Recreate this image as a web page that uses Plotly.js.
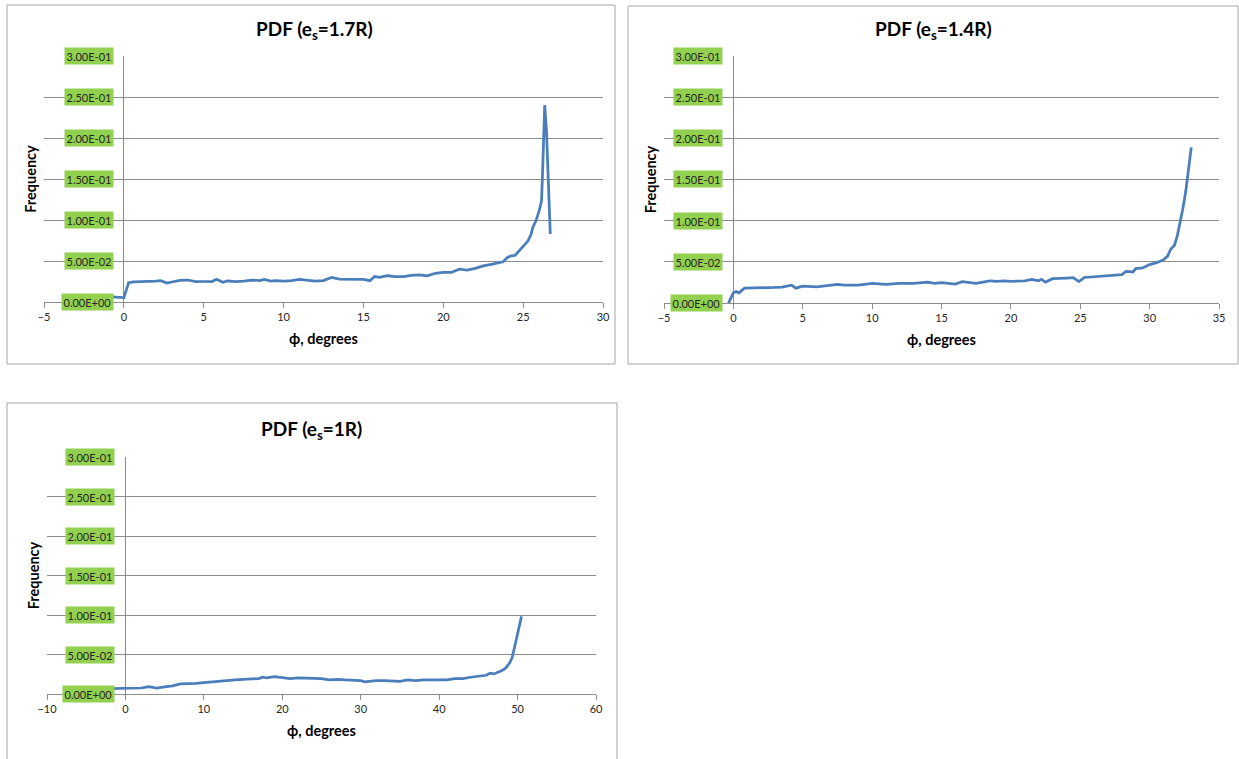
<!DOCTYPE html>
<html>
<head>
<meta charset="utf-8">
<script src="https://cdn.plot.ly/plotly-3.0.1.min.js"></script>
<style>html,body{margin:0;padding:0;background:#fff;}</style>
</head>
<body>
<div id="chart" style="width:1239px;height:759px;"></div>
<script>
// ---- data ----
const chartTitles = ['<b>PDF (e<sub>s</sub>=1.7R)</b>', '<b>PDF (e<sub>s</sub>=1.4R)</b>', '<b>PDF (e<sub>s</sub>=1R)</b>'];
const xTitle = '<b>ϕ, degrees</b>';
const yTitle = '<b>Frequency</b>';

const yTickVals = [0, 0.05, 0.10, 0.15, 0.20, 0.25, 0.30];
const yTickText = ['0.00E+00', '5.00E-02', '1.00E-01', '1.50E-01', '2.00E-01', '2.50E-01', '3.00E-01'];
const xTicks1 = [-5, 0, 5, 10, 15, 20, 25, 30];
const xTicks2 = [-5, 0, 5, 10, 15, 20, 25, 30, 35];
const xTicks3 = [-10, 0, 10, 20, 30, 40, 50, 60];

// PDF e_s = 1.7R
const x1 = [-1.0, -0.7, -0.3, 0, 0.3, 0.6, 1, 1.5, 2, 2.3, 2.7, 3, 3.5, 4, 4.5, 5, 5.5, 5.8, 6.2, 6.5, 7, 7.5, 8, 8.5, 8.8, 9.2, 9.5, 10, 10.5, 11, 11.5, 12, 12.5, 13, 13.5, 14, 14.5, 15, 15.4, 15.7, 16, 16.5, 17, 17.5, 18, 18.5, 19, 19.5, 20, 20.5, 21, 21.5, 22, 22.5, 23, 23.5, 23.75, 24, 24.2, 24.5, 24.8, 25.1, 25.3, 25.5, 25.6, 25.8, 26.0, 26.15, 26.2, 26.3, 26.35, 26.46, 26.56, 26.7];
const y1 = [0.0066, 0.0065, 0.0057, 0.0053, 0.0236, 0.0244, 0.025, 0.0256, 0.0256, 0.026, 0.023, 0.0244, 0.0264, 0.0268, 0.0248, 0.025, 0.025, 0.0276, 0.024, 0.0256, 0.025, 0.0256, 0.0268, 0.026, 0.0276, 0.0256, 0.026, 0.0256, 0.026, 0.0276, 0.0268, 0.0256, 0.0262, 0.030, 0.028, 0.0276, 0.028, 0.0276, 0.026, 0.031, 0.030, 0.032, 0.031, 0.031, 0.0325, 0.033, 0.032, 0.035, 0.036, 0.036, 0.040, 0.039, 0.041, 0.044, 0.046, 0.0475, 0.049, 0.054, 0.056, 0.057, 0.063, 0.070, 0.0745, 0.0825, 0.0905, 0.099, 0.111, 0.123, 0.148, 0.229, 0.240, 0.209, 0.148, 0.083];

// PDF e_s = 1.4R
const x2 = [-0.35, 0, 0.2, 0.4, 0.8, 1.5, 2, 3, 3.5, 4, 4.2, 4.5, 5, 6, 7, 7.5, 8, 9, 10, 11, 12, 13, 14, 14.5, 15, 16, 16.5, 17, 17.5, 18, 18.5, 19, 19.5, 20, 21, 21.5, 22, 22.2, 22.5, 23, 23.5, 24, 24.5, 24.9, 25.3, 26, 26.5, 27, 27.5, 28, 28.3, 28.8, 29, 29.5, 30, 30.5, 31, 31.3, 31.5, 31.8, 32, 32.2, 32.4, 32.6, 32.8, 33];
const y2 = [0.0, 0.0123, 0.014, 0.0123, 0.018, 0.018, 0.0189, 0.0189, 0.0193, 0.0205, 0.0217, 0.018, 0.0205, 0.0197, 0.0213, 0.0225, 0.0217, 0.0217, 0.0238, 0.0225, 0.0238, 0.0238, 0.0254, 0.0238, 0.0246, 0.023, 0.026, 0.0246, 0.0238, 0.0254, 0.027, 0.0262, 0.027, 0.0262, 0.027, 0.0287, 0.027, 0.0287, 0.0254, 0.0295, 0.0295, 0.0303, 0.0307, 0.026, 0.031, 0.032, 0.0328, 0.0336, 0.0344, 0.0344, 0.0385, 0.0377, 0.0418, 0.0426, 0.0467, 0.049, 0.0525, 0.057, 0.0648, 0.0705, 0.082, 0.098, 0.115, 0.135, 0.16, 0.189];

// PDF e_s = 1R
const x3 = [-2, -1.3, 0, 1, 2, 3, 3.5, 4, 5, 6, 7, 8, 9, 10, 11, 12, 13, 14, 15, 16, 17, 17.5, 18, 19, 20, 21, 22, 23, 24, 25, 26, 27, 28, 29, 30, 30.5, 31, 32, 33, 34, 35, 36, 37, 38, 39, 40, 41, 42, 43, 44, 45, 46, 46.5, 47, 48, 48.5, 49, 49.3, 49.6, 50, 50.5];
const y3 = [0.0068, 0.0068, 0.0068, 0.0068, 0.0076, 0.0093, 0.0080, 0.0076, 0.0089, 0.0102, 0.0127, 0.0127, 0.0136, 0.0144, 0.0153, 0.0161, 0.0178, 0.0178, 0.0186, 0.0186, 0.0195, 0.0212, 0.0203, 0.022, 0.0212, 0.0195, 0.0203, 0.0203, 0.0195, 0.0195, 0.0178, 0.0186, 0.0178, 0.0178, 0.017, 0.0153, 0.0161, 0.017, 0.017, 0.017, 0.0161, 0.0178, 0.017, 0.0178, 0.0178, 0.0186, 0.0178, 0.0195, 0.0195, 0.0212, 0.0229, 0.0237, 0.0263, 0.0254, 0.0297, 0.033, 0.0394, 0.0458, 0.0585, 0.0754, 0.0983];

// ---- layout geometry (pixels) ----
const W = 1239, H = 759;
const px = v => v / W;
const py = v => 1 - v / H;

const FONT = 'Lato, "Open Sans", sans-serif';
const lineColor = '#4A7EBB';
const gridColor = '#8C8C8C';
const borderColor = '#A6A6A6';
const green = '#92D050';

const traces = [
  {x: x1, y: y1, xaxis: 'x', yaxis: 'y', type: 'scatter', mode: 'lines', line: {color: lineColor, width: 2.75}, hoverinfo: 'skip'},
  {x: x2, y: y2, xaxis: 'x2', yaxis: 'y2', type: 'scatter', mode: 'lines', line: {color: lineColor, width: 2.75}, hoverinfo: 'skip'},
  {x: x3, y: y3, xaxis: 'x3', yaxis: 'y3', type: 'scatter', mode: 'lines', line: {color: lineColor, width: 2.75}, hoverinfo: 'skip'}
];

function xAxis(domain, range, ticks, anchor) {
  return {
    domain: domain, range: range, tickvals: ticks, anchor: anchor,
    ticks: 'outside', ticklen: 5, tickcolor: gridColor, tickwidth: 1,
    showline: true, linecolor: gridColor, linewidth: 1,
    showgrid: false, zeroline: true, zerolinecolor: gridColor, zerolinewidth: 1,
    tickfont: {family: FONT, size: 11, color: '#262626'},
    title: {text: xTitle, font: {family: FONT, size: 14.5, color: '#000'}, standoff: 11},
    fixedrange: true
  };
}
function yAxis(domain, anchor) {
  return {
    domain: domain, range: [0, 0.3], tickvals: yTickVals, anchor: anchor,
    showticklabels: false, ticks: '', showgrid: true, gridcolor: gridColor, gridwidth: 1,
    zeroline: false, showline: false, fixedrange: true,
    title: {text: yTitle, font: {family: FONT, size: 14.5, color: '#000'}, standoff: 2}
  };
}

const panels = [
  {xref: 'x', yref: 'y', box: [7, 5, 615, 364], title: chartTitles[0], titleX: 314, titleY: 30},
  {xref: 'x2', yref: 'y2', box: [628, 6, 1238, 364], title: chartTitles[1], titleX: 933, titleY: 30},
  {xref: 'x3', yref: 'y3', box: [7, 403, 617, 770], title: chartTitles[2], titleX: 311, titleY: 430}
];

const annotations = [];
const shapes = [];
panels.forEach(p => {
  shapes.push({type: 'rect', xref: 'paper', yref: 'paper', x0: px(p.box[0]), x1: px(p.box[2]), y0: py(p.box[3]), y1: py(p.box[1]), line: {color: borderColor, width: 1}, layer: 'below'});
  annotations.push({xref: 'paper', yref: 'paper', x: px(p.titleX), y: py(p.titleY), text: p.title, showarrow: false, xanchor: 'center', yanchor: 'middle', font: {family: FONT, size: 19, color: '#000'}});
  yTickVals.forEach((v, i) => {
    annotations.push({xref: p.xref, yref: p.yref, x: 0, y: v, text: yTickText[i], showarrow: false, xanchor: 'right', yanchor: 'middle', xshift: -10, bgcolor: green, borderpad: 1.5, font: {family: FONT, size: 11, color: '#262626'}});
  });
});

const layout = {
  width: W, height: H, margin: {l: 0, r: 0, t: 0, b: 0},
  paper_bgcolor: '#fff', plot_bgcolor: 'rgba(0,0,0,0)', showlegend: false,
  xaxis: xAxis([px(44), px(603)], [-5, 30], xTicks1, 'y'),
  yaxis: yAxis([py(302), py(56)], 'x'),
  xaxis2: xAxis([px(664), px(1219)], [-5, 35], xTicks2, 'y2'),
  yaxis2: yAxis([py(303), py(56)], 'x2'),
  xaxis3: xAxis([px(47), px(596)], [-10, 60], xTicks3, 'y3'),
  yaxis3: yAxis([py(694), py(457)], 'x3'),
  annotations: annotations, shapes: shapes
};

Plotly.newPlot('chart', traces, layout, {staticPlot: true, displayModeBar: false});
</script>
</body>
</html>
